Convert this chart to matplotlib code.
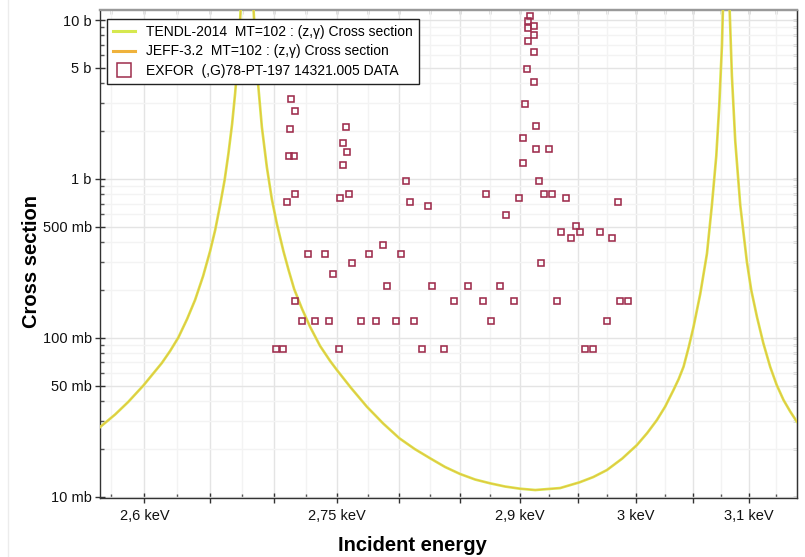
import matplotlib
matplotlib.use('Agg')
import matplotlib.pyplot as plt
from matplotlib.ticker import FixedLocator, FixedFormatter, NullFormatter
from matplotlib.lines import Line2D

plt.rcParams['font.family'] = ['Liberation Sans', 'DejaVu Sans']

# ---- evaluated curves (keV, barn) ----
tendl_energy = [2.5667, 2.5779, 2.5877, 2.5992, 2.6132, 2.6195, 2.6258, 2.6325,
                2.6386, 2.6448, 2.6502, 2.6541, 2.6579, 2.6614, 2.6643, 2.6672,
                2.6695, 2.6713, 2.6727, 2.6739, 2.6789, 2.6838, 2.6865, 2.6904,
                2.6943, 2.6982, 2.7022, 2.7073, 2.7114, 2.7158, 2.7221, 2.7285,
                2.7364, 2.7444, 2.7498, 2.7612, 2.7739, 2.7871, 2.8003, 2.8128,
                2.8255, 2.8378, 2.8502, 2.8627, 2.8753, 2.8878, 2.9005, 2.9132,
                2.9344, 2.9510, 2.9628, 2.9746, 2.9879, 3.0007, 3.0097, 3.0182,
                3.0255, 3.0328, 3.0374, 3.0417, 3.0463, 3.0505, 3.0565, 3.0625,
                3.0669, 3.0708, 3.0734, 3.0759, 3.0768, 3.0797, 3.0827, 3.0848,
                3.0878, 3.0923, 3.0983, 3.1022, 3.1074, 3.1131, 3.1194, 3.1253,
                3.1315, 3.1376, 3.1437]
tendl_xs = [0.02746, 0.03291, 0.03944, 0.0501, 0.06941, 0.08259, 0.10044, 0.1313,
            0.1730, 0.2449, 0.3518, 0.4769, 0.6852, 0.9843, 1.4347, 2.216,
            3.423, 5.062, 7.486, 12.0, 3000.0, 12.0, 4.847, 2.122,
            1.188, 0.7474, 0.5202, 0.3518, 0.2671, 0.2028, 0.1518, 0.11695,
            0.0888, 0.07146, 0.06272, 0.04832, 0.03685, 0.02889, 0.02331, 0.01996,
            0.01744, 0.01538, 0.01390, 0.01283, 0.01214, 0.01159, 0.01123, 0.01102,
            0.01134, 0.01232, 0.01330, 0.01472, 0.01739, 0.02115, 0.02517, 0.03039,
            0.03695, 0.04694, 0.05505, 0.0658, 0.08753, 0.11695, 0.18866, 0.3393,
            0.6852, 1.3937, 2.835, 6.963, 12.0, 3000.0, 12.0, 4.443,
            1.732, 0.6852, 0.29996, 0.19993, 0.13518, 0.09274, 0.06551, 0.05046,
            0.0406, 0.03437, 0.02965]

jeff_energy = [2.5667, 2.5779, 2.5877, 2.5992, 2.6132, 2.6195, 2.6258, 2.6325,
               2.6386, 2.6448, 2.6502, 2.6541, 2.6579, 2.6614, 2.6643, 2.6672,
               2.6695, 2.6713, 2.6727, 2.6739, 2.6789, 2.6838, 2.6865, 2.6904,
               2.6943, 2.6982, 2.7022, 2.7073, 2.7114, 2.7158, 2.7221, 2.7285,
               2.7364, 2.7444, 2.7498, 2.7612, 2.7739, 2.7871, 2.8003, 2.8128,
               2.8255, 2.8378, 2.8502, 2.8627, 2.8753, 2.8878, 2.9005, 2.9132,
               2.9344, 2.9510, 2.9628, 2.9746, 2.9879, 3.0007, 3.0097, 3.0182,
               3.0255, 3.0328, 3.0374, 3.0417, 3.0463, 3.0505, 3.0565, 3.0625,
               3.0669, 3.0708, 3.0734, 3.0759, 3.0768, 3.0797, 3.0827, 3.0848,
               3.0878, 3.0923, 3.0983, 3.1022, 3.1074, 3.1131, 3.1194, 3.1253,
               3.1315, 3.1376, 3.1437]
jeff_xs = [0.02746, 0.03291, 0.03944, 0.0501, 0.06941, 0.08259, 0.10044, 0.1313,
           0.1730, 0.2449, 0.3518, 0.4769, 0.6852, 0.9843, 1.4347, 2.216,
           3.423, 5.062, 7.486, 12.0, 3000.0, 12.0, 4.847, 2.122,
           1.188, 0.7474, 0.5202, 0.3518, 0.2671, 0.2028, 0.1518, 0.11695,
           0.0888, 0.07146, 0.06272, 0.04832, 0.03685, 0.02889, 0.02331, 0.01996,
           0.01744, 0.01538, 0.01390, 0.01283, 0.01214, 0.01159, 0.01123, 0.01102,
           0.01134, 0.01232, 0.01330, 0.01472, 0.01739, 0.02115, 0.02517, 0.03039,
           0.03695, 0.04694, 0.05505, 0.0658, 0.08753, 0.11695, 0.18866, 0.3393,
           0.6852, 1.3937, 2.835, 6.963, 12.0, 3000.0, 12.0, 4.443,
           1.732, 0.6852, 0.29996, 0.19993, 0.13518, 0.09274, 0.06551, 0.05046,
           0.0406, 0.03437, 0.02965]

# ---- EXFOR 14321.005 points (keV, barn) ----
exfor_energy = [2.7016, 2.7073, 2.7103, 2.7116, 2.7124, 2.7134, 2.7156, 2.7164,
                2.7164, 2.7166, 2.7221, 2.7267, 2.7325, 2.7399, 2.7436, 2.7468,
                2.7516, 2.7522, 2.7546, 2.7546, 2.7570, 2.7575, 2.7596, 2.7620,
                2.7690, 2.7757, 2.7814, 2.7873, 2.7903, 2.7974, 2.8015, 2.8058,
                2.8088, 2.8123, 2.8186, 2.8236, 2.8269, 2.8367, 2.8453, 2.8566,
                2.8691, 2.8717, 2.8758, 2.8834, 2.8889, 2.8954, 2.8994, 2.9028,
                2.9028, 2.9047, 2.9061, 2.9070, 2.9070, 2.9070, 2.9089, 2.9121,
                2.9123, 2.9123, 2.9123, 2.9140, 2.9142, 2.9163, 2.9180, 2.9208,
                2.9248, 2.9273, 2.9316, 2.9355, 2.9396, 2.9436, 2.9479, 2.9518,
                2.9559, 2.9622, 2.9688, 2.9749, 2.9792, 2.9840, 2.9859, 2.9931]
exfor_xs = [0.0847, 0.0847, 0.719, 1.39, 2.07, 3.20, 1.39, 2.69,
            0.804, 0.170, 0.128, 0.338, 0.128, 0.338, 0.128, 0.253,
            0.0847, 0.758, 1.69, 1.23, 2.12, 1.47, 0.804, 0.297,
            0.128, 0.338, 0.128, 0.382, 0.211, 0.128, 0.338, 0.974,
            0.719, 0.128, 0.0847, 0.678, 0.211, 0.0847, 0.170, 0.211,
            0.170, 0.804, 0.128, 0.211, 0.590, 0.170, 0.758, 1.81,
            1.26, 2.95, 4.94, 9.90, 8.94, 7.35, 10.6, 4.07,
            9.21, 8.08, 6.32, 1.55, 2.14, 0.974, 0.297, 0.804,
            1.55, 0.804, 0.170, 0.465, 0.758, 0.423, 0.508, 0.465,
            0.0847, 0.0847, 0.465, 0.128, 0.423, 0.719, 0.170, 0.170]

# ---- ticks ----
x_major = [2.6, 2.65, 2.7, 2.75, 2.8, 2.85, 2.9, 2.95, 3.0, 3.05, 3.1]
x_labels = ['2,6 keV', '', '', '2,75 keV', '', '', '2,9 keV', '', '3 keV', '', '3,1 keV']
x_minor = [2.575, 2.625, 2.675, 2.725, 2.775, 2.825, 2.875, 2.925, 2.975,
           3.025, 3.075, 3.125]
y_major = [0.01, 0.05, 0.1, 0.5, 1, 5, 10]
y_labels = ['10 mb', '50 mb', '100 mb', '500 mb', '1 b', '5 b', '10 b']
y_minor = [0.02, 0.03, 0.04, 0.06, 0.07, 0.08, 0.09,
           0.2, 0.3, 0.4, 0.6, 0.7, 0.8, 0.9,
           2, 3, 4, 6, 7, 8, 9]

tendl_color = '#d6e84f'
jeff_color = '#efb23c'
exfor_color = '#9e2c4c'

fig = plt.figure(figsize=(8.05, 5.57), dpi=100)
W, H = 805, 557
L, R, T, B = 100, 797, 10, 497.7
ax = fig.add_axes([L / W, 1 - B / H, (R - L) / W, (B - T) / H])
ax.set_xscale('log')
ax.set_yscale('log')

ax.plot(tendl_energy, tendl_xs, color=tendl_color, lw=1.9, zorder=3)
ax.plot(jeff_energy, jeff_xs, color=jeff_color, lw=0.7, alpha=0.8, zorder=4)
ax.plot(exfor_energy, exfor_xs, ls='none', marker='s', ms=4.6, mfc='none',
        mec=exfor_color, mew=1.15, zorder=5)

ax.set_xlim(2.5666, 3.1438)
ax.set_ylim(0.00986, 11.56)

ax.xaxis.set_major_locator(FixedLocator(x_major))
ax.xaxis.set_major_formatter(FixedFormatter(x_labels))
ax.xaxis.set_minor_locator(FixedLocator(x_minor))
ax.xaxis.set_minor_formatter(NullFormatter())
ax.yaxis.set_major_locator(FixedLocator(y_major))
ax.yaxis.set_major_formatter(FixedFormatter(y_labels))
ax.yaxis.set_minor_locator(FixedLocator(y_minor))
ax.yaxis.set_minor_formatter(NullFormatter())

ax.set_axisbelow(True)
ax.grid(which='major', color='#e4e4e4', lw=1.0)
ax.grid(which='minor', color='#f3f3f3', lw=1.0)

ax.tick_params(which='major', direction='inout', length=7, width=1,
               color='#333333', labelsize=10.5, labelcolor='#111111')
ax.tick_params(axis='x', which='major', pad=4.5)
ax.tick_params(axis='y', which='major', pad=2.5)
ax.tick_params(which='minor', direction='in', length=3, width=1, color='#555555')

for s in ['left', 'bottom']:
    ax.spines[s].set_color('#333333')
    ax.spines[s].set_linewidth(1.0)
ax.spines['top'].set_color('#999999')
ax.spines['top'].set_linewidth(1.6)
ax.spines['right'].set_color('#333333')
ax.spines['right'].set_linewidth(1.0)

# inward ticks on top and right
sx = ax.secondary_xaxis('top', functions=(lambda v: v, lambda v: v))
sx.xaxis.set_major_locator(FixedLocator(x_major + x_minor))
sx.xaxis.set_major_formatter(NullFormatter())
sx.xaxis.set_minor_locator(FixedLocator([]))
sx.tick_params(which='both', direction='in', length=3, width=1, color='#555555')
sx.spines['top'].set_color('#999999')
sx.spines['top'].set_linewidth(1.6)

sy = ax.secondary_yaxis('right', functions=(lambda v: v, lambda v: v))
sy.yaxis.set_major_locator(FixedLocator(y_major + y_minor))
sy.yaxis.set_major_formatter(NullFormatter())
sy.yaxis.set_minor_locator(FixedLocator([]))
sy.tick_params(which='both', direction='in', length=3, width=1, color='#444444')
sy.spines['right'].set_color('#333333')

ax.set_xlabel('Incident energy', fontsize=14.5, fontweight='bold')
ax.set_ylabel('Cross section', fontsize=14.5, fontweight='bold')
ax.xaxis.set_label_coords((412 - L) / (R - L), (B - 536) / (B - T))
ax.yaxis.set_label_coords((41 - L) / (R - L), 1 - (261.5 - T) / (B - T))

handles = [
    Line2D([], [], color=tendl_color, lw=2.2),
    Line2D([], [], color=jeff_color, lw=2.2),
    Line2D([], [], ls='none', marker='s', ms=10, mfc='none', mec=exfor_color, mew=1.1),
]
labels = ['TENDL-2014  MT=102 : (z,\u03b3) Cross section',
          'JEFF-3.2  MT=102 : (z,\u03b3) Cross section',
          'EXFOR  (,G)78-PT-197 14321.005 DATA']
leg = ax.legend(handles, labels, loc='upper left',
                bbox_to_anchor=((106.7 - L) / (R - L), 1 - (19 - T) / (B - T)),
                borderaxespad=0, fontsize=10, frameon=True, fancybox=False,
                framealpha=1, edgecolor='#222222', handlelength=1.6,
                handletextpad=0.75, labelspacing=0.37, borderpad=0.45)
leg.get_frame().set_linewidth(1.0)
leg.set_zorder(10)

fig.add_artist(Line2D([8 / W, 8 / W], [0, 1], color='#ececec', lw=1))

fig.savefig('out.png', dpi=100)
